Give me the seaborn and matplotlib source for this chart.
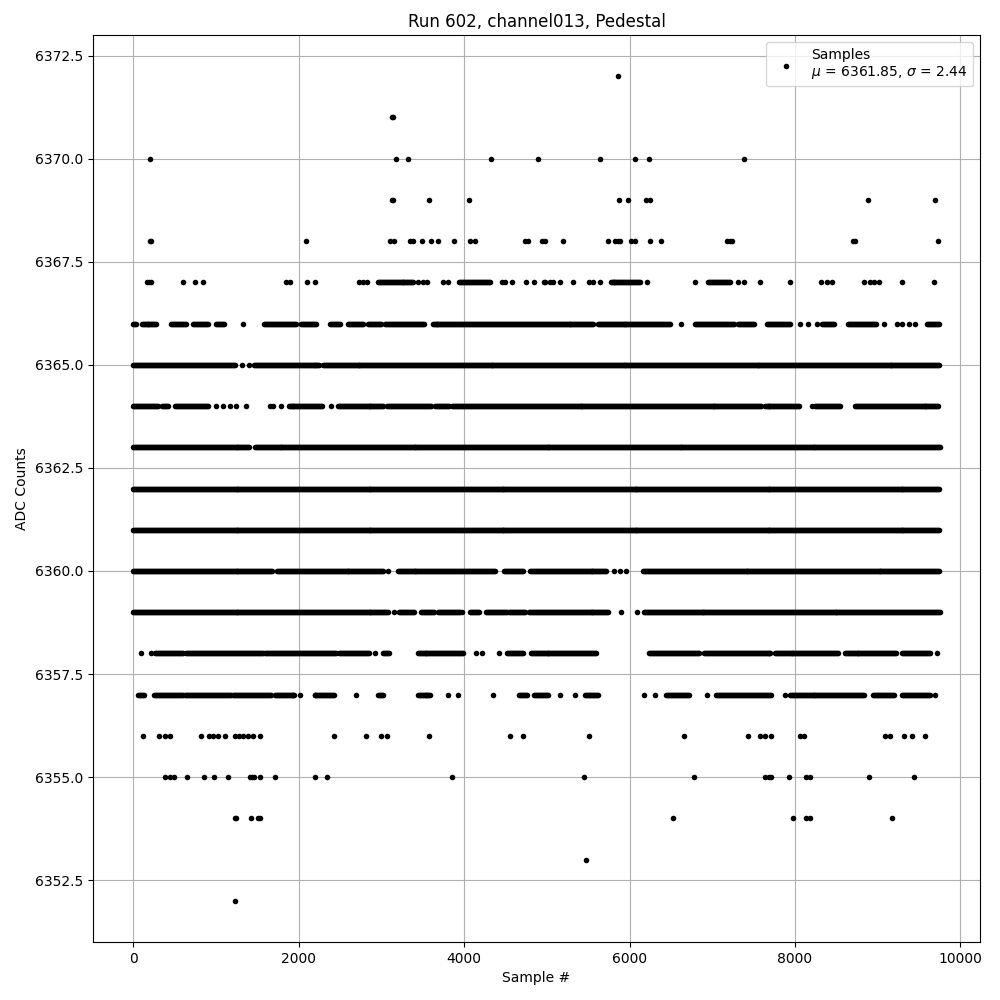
import numpy as np
import pandas as pd
import matplotlib
matplotlib.use("Agg")
import matplotlib.pyplot as plt
import seaborn as sns

# ADC levels: continuous runs (start, end sample) and lone samples
runs_6367 = [(2955, 3397), (3940, 4320), (5770, 6134), (6952, 7219)]
dots_6367 = [161, 185, 213, 603, 748, 844, 1849, 1897, 2102, 2195, 2734, 2780, 2822,
             3445, 3500, 3557, 3740, 3800, 4462, 4500, 4583, 4743, 4844, 4965, 4980,
             5040, 5080, 5154, 5316, 5506, 5559, 5644, 6206, 6794, 7308, 7381, 7575,
             7940, 8313, 8385, 8442, 8831, 8908, 8960, 9010, 9300, 9677]

runs_6366 = [(0, 40), (100, 282), (462, 643), (724, 905), (1005, 1105), (1580, 1970),
             (2030, 2211), (2384, 2512), (2593, 2774), (2834, 2995), (3043, 3517),
             (3618, 5567), (5615, 6498), (6794, 7268), (7316, 7510), (7664, 7948),
             (8330, 8480), (8645, 8990), (9596, 9750)]
dots_6366 = [1327, 6620, 8057, 8158, 8271, 9082, 9232, 9300, 9380, 9455]

runs_6365 = [(0, 1226), (1459, 2251), (2291, 9750)]
dots_6365 = [1310, 1395]

runs_6364 = [(0, 302), (342, 422), (503, 905), (1877, 2291), (2472, 3035), (3067, 3598),
             (3646, 3819), (3859, 7592), (7632, 8057), (8240, 8543), (8726, 9738)]
dots_6364 = [1005, 1086, 1166, 1247, 1367, 1648, 1690, 1780, 2392, 8200]

runs_6363 = [(0, 1407), (1468, 9750)]
runs_6362 = [(0, 9750)]
runs_6361 = [(0, 9750)]

runs_6360 = [(0, 1688), (1738, 3028), (3196, 4382), (4483, 4716), (4796, 5729), (6166, 9750)]
dots_6360 = [3075, 5810, 5883, 5952]

runs_6359 = [(0, 3095), (3217, 3397), (3477, 3638), (3686, 3960), (4072, 4180),
             (4261, 4523), (4543, 4744), (4784, 5749), (6174, 9750)]
dots_6359 = [3156, 3980, 5899, 6093]

runs_6358 = [(261, 603), (643, 1568), (1596, 2452), (2492, 2854), (3015, 3095),
             (3437, 3992), (4523, 4723), (4804, 5607), (6235, 6843), (6900, 7710),
             (7754, 8523), (8600, 9232), (9292, 9636)]
dots_6358 = [92, 213, 2926, 4140, 4220, 4422, 9718]

runs_6357 = [(60, 140), (253, 603), (631, 1186), (1206, 1668), (1709, 1950), (2191, 2432),
             (2955, 3015), (3437, 3598), (4663, 4764), (4844, 5018), (5466, 5628),
             (6437, 6721), (7045, 7713), (7936, 8847), (8948, 9211), (9292, 9636)]
dots_6357 = [2010, 2693, 3800, 3920, 4353, 5162, 5344, 6174, 6308, 6936, 7875, 9697]

dots_6372 = [5860]
dots_6371 = [3130, 3140]
dots_6370 = [205, 3172, 3317, 4330, 4893, 5644, 6069, 6239, 7381]
dots_6369 = [3125, 3135, 3570, 4064, 5874, 5984, 6194, 6247, 8888, 9690]
dots_6368 = [200, 215, 2086, 3100, 3150, 3345, 3377, 3485, 3594, 3690, 3883, 4072, 4128,
             4731, 4772, 4940, 4979, 5194, 5741, 5830, 5860, 5882, 6012, 6060, 6251,
             6385, 7178, 7210, 7234, 8700, 8720, 9726]
dots_6356 = [121, 314, 382, 442, 816, 917, 966, 1025, 1105, 1234, 1274, 1327, 1387,
             1447, 1532, 2424, 2814, 2995, 3067, 3570, 4559, 4715, 5510, 6664, 7430,
             7572, 7640, 7709, 8057, 8110, 9085, 9143, 9320, 9420, 9568]
dots_6355 = [382, 442, 494, 651, 856, 977, 1146, 1407, 1440, 1460, 1532, 1712, 2195,
             2340, 3848, 5449, 6774, 7632, 7680, 7714, 7928, 8130, 8180, 8900, 9434]
dots_6354 = [1230, 1245, 1423, 1508, 1535, 6531, 7976, 8138, 8180, 9168]
dots_6353 = [5474]
dots_6352 = [1234]

mean_label = 6361.85
sigma_label = 2.44

levels = {
    6372: ([], dots_6372), 6371: ([], dots_6371), 6370: ([], dots_6370),
    6369: ([], dots_6369), 6368: ([], dots_6368), 6367: (runs_6367, dots_6367),
    6366: (runs_6366, dots_6366), 6365: (runs_6365, dots_6365),
    6364: (runs_6364, dots_6364), 6363: (runs_6363, []), 6362: (runs_6362, []),
    6361: (runs_6361, []), 6360: (runs_6360, dots_6360), 6359: (runs_6359, dots_6359),
    6358: (runs_6358, dots_6358), 6357: (runs_6357, dots_6357), 6356: ([], dots_6356),
    6355: ([], dots_6355), 6354: ([], dots_6354), 6353: ([], dots_6353),
    6352: ([], dots_6352),
}

xs, ys = [], []
for adc, (runs, dots) in levels.items():
    for start, end in runs:
        pts = np.arange(start, end + 1, 12)
        xs.extend(pts)
        ys.extend([adc] * len(pts))
    xs.extend(dots)
    ys.extend([adc] * len(dots))
df = pd.DataFrame({"sample": xs, "adc": ys})

fig, ax = plt.subplots(figsize=(10, 10), dpi=100)
sns.scatterplot(data=df, x="sample", y="adc", color="black", s=16, linewidth=0,
                ax=ax, label=f"Samples\n$\\mu$ = {mean_label:.2f}, $\\sigma$ = {sigma_label:.2f}")

ax.set_xlim(-487, 10237)
ax.set_ylim(6351.0, 6373.0)
ax.set_yticks(np.arange(6352.5, 6373, 2.5))
ax.grid(True, color="#b0b0b0", linewidth=0.8)
ax.set_axisbelow(True)
ax.set_title("Run 602, channel013, Pedestal")
ax.set_xlabel("Sample #")
ax.set_ylabel("ADC Counts")
ax.legend(loc="upper right")

plt.subplots_adjust(left=0.093, right=0.98, bottom=0.058, top=0.965)
plt.savefig("out.png", dpi=100)
